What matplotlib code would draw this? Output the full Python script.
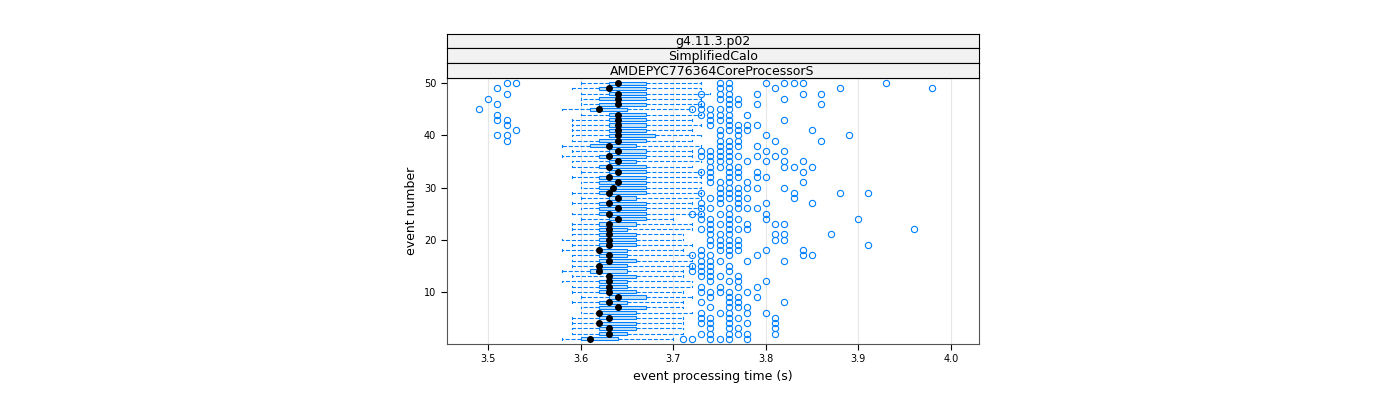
import matplotlib
matplotlib.use("Agg")
import matplotlib.pyplot as plt

# event numbers 1..50, box statistics (seconds)
events = list(range(1, 51))
medians = [3.61, 3.63, 3.63, 3.62, 3.63, 3.62, 3.64, 3.63, 3.64, 3.63,
           3.63, 3.63, 3.63, 3.62, 3.62, 3.63, 3.63, 3.62, 3.63, 3.63,
           3.63, 3.63, 3.63, 3.64, 3.63, 3.64, 3.63, 3.64, 3.63, 3.635,
           3.64, 3.63, 3.64, 3.63, 3.64, 3.63, 3.64, 3.63, 3.64, 3.64,
           3.64, 3.64, 3.64, 3.64, 3.62, 3.64, 3.64, 3.64, 3.63, 3.64]
q1 = [3.60, 3.62, 3.62, 3.62, 3.62, 3.62, 3.62, 3.62, 3.63, 3.62,
      3.62, 3.62, 3.63, 3.61, 3.62, 3.62, 3.62, 3.62, 3.62, 3.62,
      3.62, 3.62, 3.62, 3.63, 3.62, 3.62, 3.62, 3.63, 3.62, 3.62,
      3.62, 3.62, 3.63, 3.62, 3.63, 3.62, 3.63, 3.61, 3.62, 3.63,
      3.63, 3.63, 3.63, 3.63, 3.61, 3.62, 3.62, 3.63, 3.62, 3.63]
q3 = [3.64, 3.65, 3.66, 3.66, 3.66, 3.66, 3.67, 3.65, 3.67, 3.66,
      3.65, 3.65, 3.66, 3.65, 3.65, 3.66, 3.65, 3.65, 3.66, 3.66,
      3.66, 3.65, 3.66, 3.67, 3.67, 3.67, 3.67, 3.66, 3.67, 3.67,
      3.67, 3.67, 3.67, 3.67, 3.66, 3.67, 3.67, 3.66, 3.67, 3.68,
      3.67, 3.67, 3.67, 3.67, 3.65, 3.67, 3.67, 3.67, 3.67, 3.67]
whislo = [3.58, 3.59, 3.59, 3.59, 3.59, 3.60, 3.60, 3.59, 3.60, 3.59,
          3.59, 3.58, 3.59, 3.58, 3.59, 3.59, 3.59, 3.58, 3.59, 3.58,
          3.59, 3.59, 3.59, 3.60, 3.59, 3.60, 3.59, 3.60, 3.59, 3.60,
          3.60, 3.59, 3.60, 3.59, 3.59, 3.58, 3.59, 3.58, 3.59, 3.59,
          3.59, 3.59, 3.59, 3.60, 3.58, 3.60, 3.60, 3.60, 3.59, 3.60]
whishi = [3.70, 3.71, 3.71, 3.71, 3.71, 3.72, 3.71, 3.71, 3.72, 3.71,
          3.72, 3.72, 3.71, 3.71, 3.72, 3.72, 3.72, 3.71, 3.72, 3.71,
          3.71, 3.72, 3.72, 3.70, 3.73, 3.73, 3.72, 3.73, 3.73, 3.73,
          3.73, 3.73, 3.73, 3.72, 3.73, 3.72, 3.72, 3.73, 3.72, 3.73,
          3.72, 3.73, 3.72, 3.73, 3.72, 3.73, 3.73, 3.74, 3.73, 3.73]
fliers = [
    [3.71, 3.72, 3.74, 3.75, 3.76, 3.78],
    [3.73, 3.74, 3.76, 3.77, 3.78, 3.81],
    [3.74, 3.76, 3.77, 3.81],
    [3.73, 3.74, 3.76, 3.78, 3.81],
    [3.73, 3.74, 3.76, 3.77, 3.81],
    [3.73, 3.75, 3.76, 3.78, 3.80],
    [3.74, 3.76, 3.77, 3.78],
    [3.73, 3.76, 3.77, 3.82],
    [3.74, 3.76, 3.77, 3.79],
    [3.73, 3.74, 3.75, 3.76, 3.78],
    [3.73, 3.75, 3.77, 3.79],
    [3.74, 3.76, 3.77, 3.80],
    [3.73, 3.74, 3.75, 3.77],
    [3.72, 3.73, 3.74, 3.76],
    [3.72, 3.73, 3.74, 3.76],
    [3.73, 3.74, 3.75, 3.78, 3.82],
    [3.72, 3.73, 3.74, 3.76, 3.79, 3.84, 3.85],
    [3.73, 3.75, 3.76, 3.77, 3.80, 3.84],
    [3.74, 3.75, 3.76, 3.77, 3.91],
    [3.74, 3.75, 3.76, 3.77, 3.81, 3.82],
    [3.74, 3.75, 3.76, 3.81, 3.82, 3.87],
    [3.73, 3.74, 3.76, 3.77, 3.78, 3.96],
    [3.74, 3.75, 3.76, 3.78, 3.81, 3.82],
    [3.73, 3.74, 3.76, 3.77, 3.80, 3.90],
    [3.72, 3.73, 3.75, 3.76, 3.80],
    [3.73, 3.74, 3.76, 3.77, 3.78, 3.79],
    [3.73, 3.75, 3.77, 3.80, 3.85],
    [3.74, 3.75, 3.76, 3.77, 3.78, 3.83],
    [3.73, 3.75, 3.76, 3.77, 3.83, 3.88, 3.91],
    [3.75, 3.76, 3.77, 3.78, 3.79, 3.82],
    [3.74, 3.75, 3.76, 3.78, 3.84],
    [3.74, 3.76, 3.77, 3.79, 3.80],
    [3.73, 3.74, 3.76, 3.77, 3.79, 3.84],
    [3.74, 3.75, 3.76, 3.77, 3.82, 3.83, 3.85],
    [3.74, 3.75, 3.76, 3.78, 3.80, 3.82, 3.84],
    [3.73, 3.74, 3.75, 3.76, 3.77, 3.79, 3.81],
    [3.73, 3.74, 3.75, 3.76, 3.80, 3.82],
    [3.75, 3.76, 3.77, 3.79],
    [3.52, 3.75, 3.76, 3.77, 3.81, 3.86],
    [3.51, 3.52, 3.75, 3.77, 3.80, 3.89],
    [3.53, 3.75, 3.76, 3.77, 3.78, 3.85],
    [3.52, 3.74, 3.76, 3.77, 3.78, 3.79],
    [3.51, 3.52, 3.74, 3.75, 3.76, 3.82],
    [3.51, 3.73, 3.74, 3.75, 3.76, 3.78],
    [3.49, 3.72, 3.73, 3.74, 3.75, 3.76],
    [3.51, 3.73, 3.76, 3.77, 3.79, 3.86],
    [3.50, 3.75, 3.76, 3.77, 3.82],
    [3.52, 3.73, 3.75, 3.76, 3.79, 3.84, 3.86],
    [3.51, 3.75, 3.76, 3.81, 3.88, 3.98],
    [3.52, 3.53, 3.75, 3.76, 3.80, 3.82, 3.83, 3.84, 3.93],
]
x_ticks = [3.5, 3.6, 3.7, 3.8, 3.9, 4.0]
y_ticks = [10, 20, 30, 40, 50]
strips = ["g4.11.3.p02", "SimplifiedCalo", "AMDEPYC776364CoreProcessorS"]

BLUE = "#0080ff"
LIGHT = "#c7e4f7"

stats = []
for i in range(len(events)):
    stats.append(dict(med=medians[i], q1=q1[i], q3=q3[i], whislo=whislo[i],
                      whishi=whishi[i], fliers=fliers[i]))

fig = plt.figure(figsize=(14, 4), dpi=100)
ax = fig.add_axes([0.319, 0.14, 0.380, 0.665])
ax.bxp(stats, positions=events, vert=False, widths=0.6, patch_artist=True,
       showcaps=True,
       boxprops=dict(facecolor=LIGHT, edgecolor=BLUE, linewidth=0.8),
       whiskerprops=dict(color=BLUE, linestyle="--", linewidth=0.8),
       capprops=dict(color=BLUE, linewidth=0.8),
       medianprops=dict(linestyle="none"),
       flierprops=dict(marker="o", markerfacecolor="none", markeredgecolor=BLUE,
                       markersize=4.5, markeredgewidth=0.8))
for s in stats:
    s["whislo"] = s["whislo"]
ax.plot(medians, events, "o", color="black", markersize=4)

ax.set_xlim(3.455, 4.03)
ax.set_ylim(0, 51)
ax.set_xticks(x_ticks)
ax.set_xticklabels([f"{v:.1f}" for v in x_ticks], fontsize=7)
ax.set_yticks(y_ticks)
ax.set_yticklabels([str(v) for v in y_ticks], fontsize=7)
ax.tick_params(axis="x", top=True, direction="out", length=4)
ax.tick_params(axis="y", right=False, direction="out", length=4)
for v in x_ticks:
    ax.axvline(v, color="#e6e6e6", linewidth=0.8, zorder=0)
for sp in ax.spines.values():
    sp.set_color("#555555")
ax.set_xlabel("event processing time (s)", fontsize=9)
ax.set_ylabel("event number", fontsize=9)

# strip headers above the panel
pos = ax.get_position()
h = 0.037
for k, label in enumerate(strips):
    y0 = pos.y1 + (len(strips) - 1 - k) * h
    sax = fig.add_axes([pos.x0, y0, pos.width, h])
    sax.set_facecolor("#f2f2f2")
    sax.set_xticks([])
    sax.set_yticks([])
    sax.text(0.5, 0.45, label, ha="center", va="center", fontsize=9,
             transform=sax.transAxes)

fig.savefig("out.png", dpi=100)
